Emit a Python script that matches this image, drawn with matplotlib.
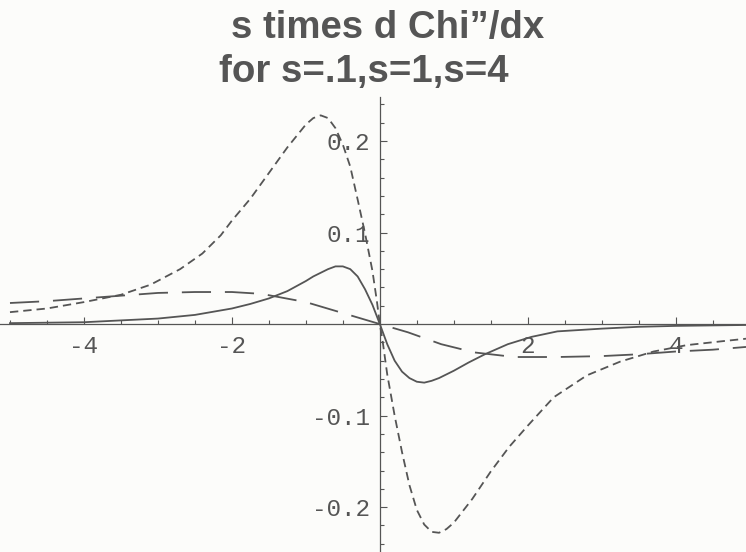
import matplotlib
matplotlib.use("Agg")
import matplotlib.pyplot as plt
from matplotlib.ticker import FixedLocator, FixedFormatter, NullFormatter

# s = .1 (short dashes)
x_s01 = [-5.0, -4.5, -4.0, -3.5, -3.1, -2.7, -2.4, -2.15, -2.0, -1.75, -1.5, -1.25,
         -1.0, -0.9, -0.8, -0.7, -0.6, -0.5, -0.4, -0.3, -0.2, -0.1, -0.04, 0.0,
         0.04, 0.1, 0.2, 0.3, 0.4, 0.5, 0.6, 0.7, 0.8, 0.9, 1.0, 1.25, 1.5, 1.75,
         2.0, 2.35, 2.8, 3.25, 3.7, 4.15, 4.6, 4.95]
y_s01 = [0.013, 0.017, 0.024, 0.032, 0.043, 0.060, 0.077, 0.097, 0.113, 0.137, 0.165, 0.193,
         0.218, 0.225, 0.228, 0.225, 0.214, 0.196, 0.172, 0.136, 0.099, 0.058, 0.025, 0.0,
         -0.020, -0.055, -0.100, -0.140, -0.176, -0.203, -0.219, -0.227, -0.228, -0.224, -0.217, -0.191, -0.161, -0.134,
         -0.111, -0.080, -0.056, -0.041, -0.030, -0.023, -0.019, -0.016]

# s = 1 (solid)
x_s1 = [-5.0, -4.5, -4.0, -3.5, -3.0, -2.5, -2.0, -1.75, -1.5, -1.25, -1.0, -0.9,
        -0.8, -0.7, -0.6, -0.5, -0.4, -0.3, -0.2, -0.1, 0.0,
        0.1, 0.2, 0.3, 0.4, 0.5, 0.6, 0.7, 0.8, 0.9, 1.0, 1.2, 1.42, 1.73,
        2.05, 2.4, 3.0, 3.5, 4.0, 4.95]
y_s1 = [0.001, 0.0015, 0.002, 0.004, 0.006, 0.010, 0.017, 0.022, 0.028, 0.036, 0.047, 0.052,
        0.056, 0.060, 0.063, 0.063, 0.060, 0.052, 0.038, 0.021, 0.0,
        -0.022, -0.040, -0.052, -0.059, -0.063, -0.064, -0.062, -0.059, -0.055, -0.051, -0.042, -0.033, -0.022,
        -0.014, -0.008, -0.005, -0.003, -0.002, -0.001]

# s = 4 (long dashes)
x_s4 = [-5.0, -4.5, -4.0, -3.5, -3.0, -2.5, -2.0, -1.6, -1.4, -1.0, -0.5, -0.25, 0.0,
        0.38, 0.83, 1.28, 1.82, 2.4, 3.0, 3.5, 4.0, 4.5, 4.95]
y_s4 = [0.023, 0.025, 0.028, 0.031, 0.034, 0.035, 0.035, 0.033, 0.030, 0.024, 0.012, 0.006, 0.0,
        -0.009, -0.022, -0.031, -0.036, -0.036, -0.035, -0.033, -0.030, -0.028, -0.025]

x_major = [-4, -2, 2, 4]
x_labels = ["-4", "-2", "2", "4"]
x_minor = [-5, -4.5, -3.5, -3, -2.5, -1.5, -1, -0.5, 0.5, 1, 1.5, 2.5, 3, 3.5, 4.5]
y_major = [-0.2, -0.1, 0.1, 0.2]
y_labels = ["-0.2", "-0.1", "0.1", "0.2"]
y_minor = [-0.24, -0.22, -0.18, -0.16, -0.14, -0.12, -0.08, -0.06, -0.04, -0.02,
           0.02, 0.04, 0.06, 0.08, 0.12, 0.14, 0.16, 0.18, 0.22, 0.24]

ink = "#555555"


def main():
    plt.rcParams["lines.scale_dashes"] = False

    fig = plt.figure(figsize=(7.46, 5.52), dpi=100)
    fig.patch.set_facecolor("#fcfcfa")
    ax = fig.add_axes([0, 0, 1, 1])
    ax.set_facecolor("none")

    ax.plot(x_s01, y_s01, color=ink, lw=1.3, dashes=(6, 3.6))
    ax.plot(x_s1, y_s1, color=ink, lw=1.3)
    ax.plot(x_s4, y_s4, color=ink, lw=1.3, dashes=(21, 10))

    ax.set_xlim(-5.135, 4.95)
    ax.set_ylim(-0.249, 0.354)

    # axes through the origin
    for side in ("top", "right"):
        ax.spines[side].set_visible(False)
    ax.spines["left"].set_position(("data", 0))
    ax.spines["bottom"].set_position(("data", 0))
    ax.spines["left"].set_bounds(-0.249, 0.248)
    for side in ("left", "bottom"):
        ax.spines[side].set_color(ink)
        ax.spines[side].set_linewidth(0.9)

    ax.xaxis.set_major_locator(FixedLocator(x_major))
    ax.xaxis.set_major_formatter(FixedFormatter(x_labels))
    ax.xaxis.set_minor_locator(FixedLocator(x_minor))
    ax.xaxis.set_minor_formatter(NullFormatter())
    ax.yaxis.set_major_locator(FixedLocator(y_major))
    ax.yaxis.set_major_formatter(FixedFormatter(y_labels))
    ax.yaxis.set_minor_locator(FixedLocator(y_minor))
    ax.yaxis.set_minor_formatter(NullFormatter())

    ax.tick_params(which="both", direction="in", color=ink, width=0.8)
    ax.tick_params(which="major", length=5)
    ax.tick_params(which="minor", length=3)
    ax.tick_params(axis="x", which="major", pad=8)
    ax.tick_params(axis="y", which="major", pad=7)
    for lab in ax.get_xticklabels() + ax.get_yticklabels():
        lab.set_fontfamily("Liberation Mono")
        lab.set_fontsize(17.5)
        lab.set_color(ink)

    title_font = dict(family="Liberation Sans", weight="bold", size=27.6,
                      color=ink, ha="center", va="baseline")
    fig.text(388 / 746, 1 - 38 / 552, "s times d Chi\u201d/dx", **title_font)
    fig.text(363.5 / 746, 1 - 82 / 552, "for s=.1,s=1,s=4", **title_font)

    fig.savefig("out.png", dpi=100, facecolor=fig.get_facecolor())


if __name__ == "__main__":
    main()
